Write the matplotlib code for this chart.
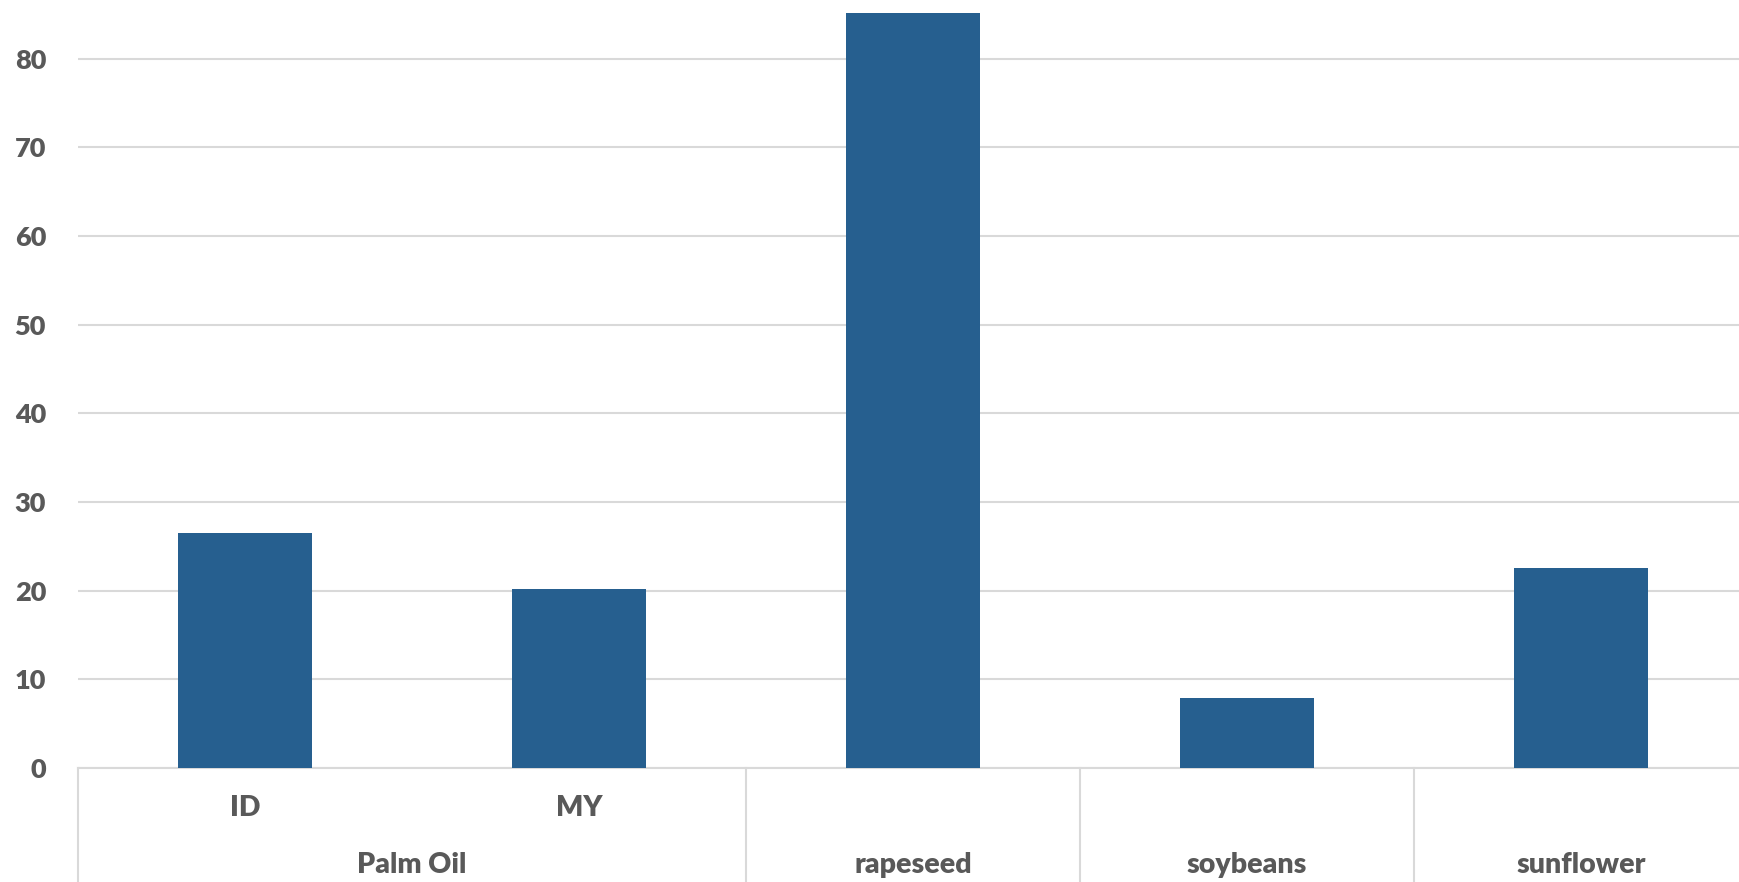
import matplotlib.pyplot as plt
import matplotlib.transforms as mtransforms

# data
labels = ['ID', 'MY', '', '', '']
groups = ['Palm Oil', 'rapeseed', 'soybeans', 'sunflower']
group_pos = [0.5, 2, 3, 4]
values = [26.5, 20.2, 85.1, 7.9, 22.5]
yticks = [0, 10, 20, 30, 40, 50, 60, 70, 80]

BAR = '#265f8f'
GRID = '#d9d9d9'
TXT = '#595959'
WEIGHT = 'heavy'

plt.rcParams['font.family'] = ['Lato', 'DejaVu Sans']

fig = plt.figure(figsize=(17.39, 8.82), dpi=100)
ax = fig.add_axes([78 / 1739, (882 - 768) / 882, 1670 / 1739, 768 / 882])

x = list(range(len(values)))
ax.bar(x, values, width=0.4, color=BAR, zorder=3)

ax.set_xlim(-0.5, 4.5)
ax.set_ylim(0, 86.6)
ax.set_yticks(yticks)
ax.set_yticklabels([str(t) for t in yticks])
ax.yaxis.grid(True, color=GRID, linewidth=1.5)
ax.set_axisbelow(True)
ax.tick_params(axis='y', length=0, pad=23, labelsize=19.5, labelcolor=TXT)
for lab in ax.get_yticklabels():
    lab.set_fontweight(WEIGHT)
ax.set_xticks([])
for s in ['top', 'right', 'left']:
    ax.spines[s].set_visible(False)
ax.spines['bottom'].set_color(GRID)
ax.spines['bottom'].set_linewidth(1.5)

# category axis below the plot
trans = mtransforms.blended_transform_factory(ax.transData, ax.transAxes)
depth = -(882 - 768) / 768
for sx in [-0.5, 1.5, 2.5, 3.5]:
    ax.plot([sx, sx], [0, depth], color=GRID, linewidth=1.5,
            transform=trans, clip_on=False)

for i, lab in enumerate(labels):
    if lab:
        ax.text(i, -40 / 768, lab, transform=trans, ha='center', va='center',
                fontsize=20.5, fontweight=WEIGHT, color=TXT)
for gx, g in zip(group_pos, groups):
    ax.text(gx, -97 / 768, g, transform=trans, ha='center', va='center',
            fontsize=20.5, fontweight=WEIGHT, color=TXT)

fig.savefig('out.png', dpi=100)
